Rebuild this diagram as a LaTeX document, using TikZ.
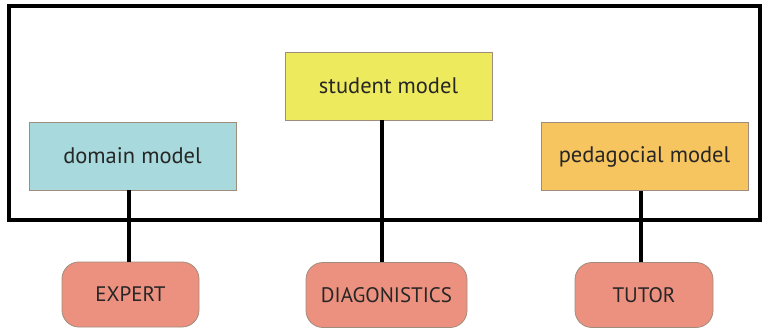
\documentclass[tikz,border=0pt]{standalone}
\usepackage{fontspec}
\setmainfont{PT Sans}
\definecolor{teal1}{HTML}{A8D9DC}
\definecolor{yell1}{HTML}{EEEA5E}
\definecolor{orng1}{HTML}{F7C55F}
\definecolor{salm1}{HTML}{EC917F}
\definecolor{edge1}{HTML}{A08C7C}
\begin{document}
\begin{tikzpicture}[x=1pt,y=-1pt,
  modelbox/.style={draw=edge1, line width=0.8pt, minimum width=207pt, minimum height=68pt, inner sep=0pt, font=\fontsize{22.5}{26}\selectfont, text=black!85},
  rolebox/.style={draw=edge1, line width=0.8pt, fill=salm1, rounded corners=17pt, minimum height=65pt, inner sep=0pt, font=\fontsize{21}{25}\selectfont, text=black!85},
  link/.style={line width=4.5pt, black}]
\useasboundingbox (0,0) rectangle (763,331);
\draw[line width=4.5pt] (9,6) rectangle (760,220);
\node[modelbox, fill=teal1] (domain) at (132.5,156) {domain model};
\node[modelbox, fill=yell1] (student) at (388.5,86) {student model};
\node[modelbox, fill=orng1] (peda) at (644.5,156.5) {pedagocial model};
\node[rolebox, minimum width=137pt] (expert) at (130.5,294.5) {EXPERT};
\node[rolebox, minimum width=161pt] (diag) at (386.5,295) {DIAGONISTICS};
\node[rolebox, minimum width=138pt] (tutor) at (644,295) {TUTOR};
\draw[link] (domain.south -| 129,0) -- (expert.north -| 129,0);
\draw[link] (student.south -| 382,0) -- (diag.north -| 382,0);
\draw[link] (peda.south -| 641,0) -- (tutor.north -| 641,0);
\end{tikzpicture}
\end{document}
